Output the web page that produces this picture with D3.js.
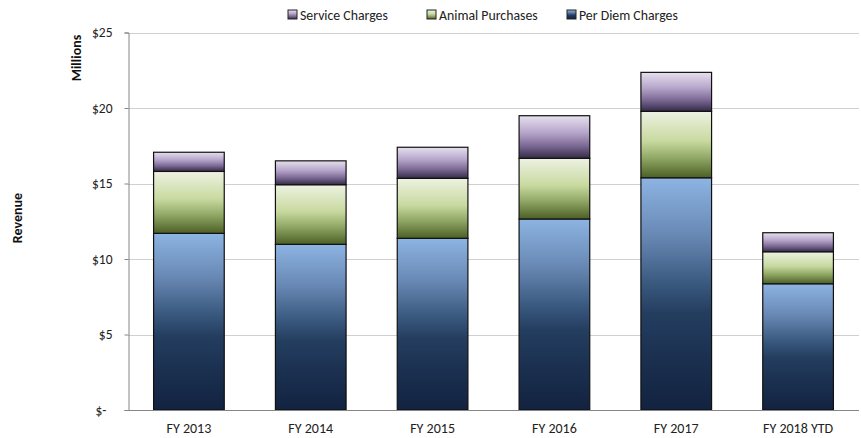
<!DOCTYPE html>
<html><head><meta charset="utf-8">
<script src="https://cdn.jsdelivr.net/npm/d3@7"></script>
<style>body{margin:0;background:#fff;} text{font-family:Carlito,Lato,"Liberation Sans",sans-serif;}</style>
</head><body>
<svg id="c" width="861" height="438"></svg>
<script>
const categories = ["FY 2013","FY 2014","FY 2015","FY 2016","FY 2017","FY 2018 YTD"];
const perDiem   = [11.70, 10.97, 11.37, 12.65, 15.38, 8.36];
const animal    = [4.10, 3.95, 3.97, 4.02, 4.40, 2.12];
const service   = [1.27, 1.58, 2.06, 2.82, 2.58, 1.26];
const seriesNames = ["Per Diem Charges","Animal Purchases","Service Charges"];
const yTicks = [0,5,10,15,20,25];
const yTickLabels = ["$-","$5","$10","$15","$20","$25"];

const svg = d3.select("#c");
const defs = svg.append("defs");
const grads = {
  "Per Diem Charges": [[0,"#8db4e3"],[0.25,"#6888b4"],[0.45,"#3b5a80"],[0.58,"#243e60"],[0.8,"#1a2e4e"],[1,"#122340"]],
  "Animal Purchases": [[0,"#edf2e2"],[0.45,"#c8d99f"],[0.7,"#91a866"],[1,"#4c5f26"]],
  "Service Charges":  [[0,"#e6e0ee"],[0.4,"#b6a5ca"],[0.7,"#7d6b96"],[1,"#352a48"]]
};
const gid = {};
seriesNames.forEach((n,i)=>{
  const id = "g"+i; gid[n]=id;
  const g = defs.append("linearGradient").attr("id",id).attr("x1",0).attr("y1",0).attr("x2",0).attr("y2",1);
  grads[n].forEach(s=>g.append("stop").attr("offset",s[0]).attr("stop-color",s[1]));
});

const x = d3.scaleBand().domain(categories).range([128,859]).paddingInner(0.42).paddingOuter(0.21);
const y = d3.scaleLinear().domain([0,25]).range([410,32.5]);

// gridlines
svg.append("g").selectAll("line").data(yTicks.filter(t=>t>0)).join("line")
  .attr("x1",128).attr("x2",859).attr("y1",d=>Math.round(y(d))+0.5).attr("y2",d=>Math.round(y(d))+0.5)
  .attr("stroke","#d0d0d0").attr("stroke-width",1.2);

// stack
const rows = categories.map((c,i)=>({cat:c,"Per Diem Charges":perDiem[i],"Animal Purchases":animal[i],"Service Charges":service[i]}));
const stack = d3.stack().keys(seriesNames)(rows);
svg.append("g").selectAll("g").data(stack).join("g")
  .attr("fill",d=>`url(#${gid[d.key]})`)
  .selectAll("rect").data(d=>d).join("rect")
  .attr("x",d=>x(d.data.cat)).attr("width",x.bandwidth())
  .attr("y",d=>y(d[1])).attr("height",d=>y(d[0])-y(d[1]))
  .attr("stroke","#111").attr("stroke-width",1.2);

const FF = "Carlito,Lato,'Liberation Sans',sans-serif";
// axes
const yAxis = d3.axisLeft(y).tickValues(yTicks).tickSize(4).tickFormat((d,i)=>yTickLabels[i]);
const ya = svg.append("g").attr("transform","translate(128.5,0)").call(yAxis);
ya.select(".domain").attr("stroke","#868686");
ya.selectAll(".tick line").attr("stroke","#868686");
ya.selectAll(".tick text").attr("font-size",13.5).attr("fill","#222").attr("x",-16).attr("font-family",FF);
ya.selectAll(".tick text").filter(d=>d===0).attr("x",-22);

const xAxis = d3.axisBottom(x).tickSize(0).tickPadding(13);
const xa = svg.append("g").attr("transform","translate(0,410.5)").call(xAxis);
xa.select(".domain").attr("stroke","#868686").attr("d","M128,0H859");
xa.selectAll(".tick text").attr("font-size",14).attr("fill","#222").attr("font-family",FF);

// titles
svg.append("text").attr("transform","translate(22,218) rotate(-90)").attr("text-anchor","middle")
  .attr("font-size",14).attr("font-weight","bold").attr("fill","#111").text("Revenue");
svg.append("text").attr("transform","translate(81,58) rotate(-90)").attr("text-anchor","middle")
  .attr("font-size",14).attr("font-weight","bold").attr("fill","#111").text("Millions");

// legend
const legendOrder = ["Service Charges","Animal Purchases","Per Diem Charges"];
const legendX = [288,427,567];
const lg = svg.append("g").selectAll("g").data(legendOrder).join("g")
  .attr("transform",(d,i)=>`translate(${legendX[i]},10)`);
lg.append("rect").attr("width",9).attr("height",9).attr("fill",d=>`url(#${gid[d]})`).attr("stroke","#222").attr("stroke-width",1);
lg.append("text").attr("x",12).attr("y",9.5).attr("font-size",13.8).attr("fill","#222").text(d=>d);
</script>
</body></html>
